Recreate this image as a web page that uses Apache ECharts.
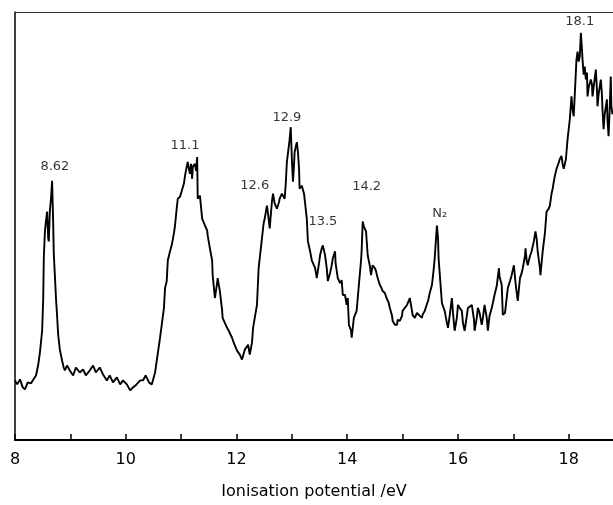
<!DOCTYPE html>
<html>
<head>
<meta charset="utf-8">
<script src="https://cdn.jsdelivr.net/npm/echarts@6/dist/echarts.min.js"></script>
<style>
  html, body { margin: 0; padding: 0; background: #fff; }
  #chart { width: 613px; height: 505px; }
</style>
</head>
<body>
<div id="chart"></div>
<script>
// photoelectron spectrum, intensity in arbitrary units
var energy = [
  8.00, 8.04, 8.09, 8.14, 8.18, 8.23, 8.29, 8.32, 8.38, 8.42, 8.45, 8.49, 8.51, 8.52, 8.54, 8.56, 8.58, 8.60, 8.61, 8.63,
  8.65, 8.67, 8.69, 8.70, 8.72, 8.74, 8.76, 8.78, 8.81, 8.85, 8.88, 8.90, 8.94,
  8.99, 9.05, 9.10, 9.17, 9.23, 9.28, 9.35, 9.41, 9.46, 9.53, 9.59, 9.66, 9.71, 9.77, 9.84, 9.90, 9.95, 10.02,
  10.08, 10.13, 10.18, 10.26, 10.31, 10.36, 10.42, 10.47, 10.53, 10.56,
  10.62, 10.65, 10.69, 10.71, 10.74, 10.76, 10.80, 10.83, 10.87, 10.89, 10.92, 10.94, 10.98, 11.01, 11.05, 11.07,
  11.10, 11.12, 11.14, 11.16, 11.18, 11.20, 11.21, 11.25, 11.27, 11.29, 11.30, 11.34, 11.38, 11.43, 11.47, 11.48,
  11.52, 11.56, 11.57, 11.61, 11.65, 11.66, 11.70, 11.74, 11.75, 11.79, 11.83, 11.86, 11.92, 11.95, 12.01, 12.06,
  12.10, 12.15, 12.21, 12.24, 12.28, 12.30,
  12.33, 12.37, 12.40, 12.44, 12.46, 12.49, 12.51, 12.55, 12.57, 12.60, 12.64, 12.66, 12.69, 12.73, 12.77, 12.78,
  12.82, 12.84, 12.87, 12.89, 12.91, 12.95, 12.96, 12.98, 13.00, 13.02, 13.04, 13.05, 13.09, 13.11, 13.13, 13.14,
  13.18, 13.22, 13.23, 13.27, 13.29, 13.33, 13.36, 13.38, 13.42, 13.45, 13.49, 13.51, 13.54, 13.56, 13.60, 13.63,
  13.65, 13.69, 13.72, 13.74, 13.78, 13.79, 13.83, 13.87, 13.90, 13.92, 13.96, 13.99, 14.01, 14.03, 14.07, 14.08,
  14.12, 14.17, 14.21, 14.25, 14.26, 14.28,
  14.30, 14.34, 14.37, 14.41, 14.43, 14.46, 14.50, 14.52, 14.55, 14.59, 14.62, 14.64, 14.68, 14.71, 14.75, 14.77,
  14.81, 14.82, 14.86, 14.90, 14.91, 14.95, 14.99, 15.00, 15.04, 15.08, 15.11, 15.13, 15.17, 15.18, 15.22, 15.26,
  15.27, 15.31, 15.35, 15.36, 15.40, 15.44, 15.46, 15.49, 15.53, 15.56, 15.58, 15.60, 15.62, 15.64, 15.65, 15.67,
  15.69, 15.71, 15.73,
  15.76, 15.80, 15.82, 15.85, 15.89, 15.91, 15.94, 15.98, 16.00, 16.03, 16.07, 16.09, 16.12, 16.16, 16.18, 16.21,
  16.25, 16.29, 16.30, 16.34, 16.36, 16.39, 16.43, 16.45, 16.48, 16.52, 16.54, 16.57, 16.61, 16.63, 16.66, 16.70,
  16.74, 16.75, 16.79, 16.81, 16.85, 16.86, 16.90, 16.94, 16.97, 17.01, 17.04, 17.08, 17.12, 17.15, 17.17, 17.21,
  17.22, 17.24, 17.26, 17.30, 17.33, 17.37, 17.40, 17.42, 17.44, 17.48, 17.49, 17.51, 17.53,
  17.57, 17.60, 17.64, 17.66, 17.69, 17.71, 17.73, 17.75, 17.78, 17.80, 17.84, 17.87, 17.89, 17.91, 17.95, 17.96,
  17.98, 18.02, 18.04, 18.05, 18.07, 18.09, 18.11, 18.14, 18.16, 18.18, 18.20, 18.22, 18.24, 18.25, 18.27, 18.29,
  18.31, 18.33, 18.34, 18.36, 18.40, 18.42, 18.43, 18.45, 18.49, 18.51, 18.52, 18.54, 18.58, 18.60, 18.61, 18.63,
  18.65, 18.69, 18.70, 18.72, 18.74, 18.76, 18.77, 18.79
]
var intensity = [
  60, 56, 61, 53, 51, 58, 57, 60, 65, 76, 88, 110, 143, 183, 210, 221, 230, 203, 200, 231,
  243, 261, 218, 188, 166, 143, 125, 106, 91, 80, 73, 70, 75,
  70, 65, 73, 68, 71, 65, 70, 75, 68, 73, 66, 60, 65, 58, 63, 56, 60, 56,
  50, 53, 55, 60, 60, 65, 58, 56, 68, 80,
  103, 116, 133, 153, 160, 181, 190, 196, 208, 216, 233, 243, 245, 246, 258, 266,
  275, 280, 273, 268, 278, 263, 275, 278, 271, 285, 243, 246, 223, 216, 211, 206,
  193, 181, 166, 143, 158, 163, 150, 131, 123, 118, 113, 110, 103, 98, 90, 86,
  81, 91, 96, 86, 98, 113,
  123, 136, 173, 193, 203, 218, 223, 236, 228, 213, 240, 248, 238, 233, 240, 243,
  248, 250, 243, 258, 280, 298, 303, 315, 283, 260, 278, 290, 300, 290, 273, 253,
  256, 248, 243, 223, 200, 190, 181, 183, 173, 163, 178, 186, 193, 196, 186, 173,
  160, 168, 176, 183, 190, 178, 163, 158, 161, 146, 146, 136, 143, 116, 110, 103,
  123, 130, 156, 181, 190, 220,
  215, 210, 186, 175, 166, 176, 173, 170, 163, 156, 153, 150, 148, 143, 138, 133,
  125, 120, 116, 116, 121, 120, 125, 130, 133, 136, 140, 143, 130, 126, 123, 128,
  130, 125, 123, 126, 130, 137, 140, 148, 156, 171, 183, 200, 216, 203, 183, 168,
  153, 138, 136,
  130, 118, 113, 125, 143, 128, 110, 123, 136, 133, 130, 118, 110, 125, 133, 135,
  136, 121, 110, 123, 133, 128, 116, 123, 136, 123, 110, 125, 133, 138, 146, 155,
  173, 165, 156, 126, 128, 130, 153, 160, 166, 176, 158, 140, 163, 168, 173, 185,
  193, 181, 176, 185, 190, 200, 210, 203, 190, 173, 166, 178, 190,
  208, 230, 233, 236, 248, 253, 260, 266, 273, 276, 283, 286, 278, 273, 283, 290,
  303, 323, 338, 346, 333, 326, 348, 383, 391, 381, 386, 410, 393, 383, 368, 376,
  363, 370, 346, 355, 363, 358, 346, 355, 373, 353, 336, 348, 363, 348, 333, 313,
  328, 343, 323, 306, 333, 366, 336, 328
]
// peak annotations: text, energy, height of label
var peakNames = ['8.62', '11.1', '12.6', '12.9', '13.5', '14.2', 'N₂', '18.1']
var peakX = [8.72, 11.07, 12.33, 12.91, 13.56, 14.35, 15.67, 18.20]
var peakY = [275, 296, 256, 325, 220, 255, 228, 421]

var chart = echarts.init(document.getElementById('chart'), null, { renderer: 'canvas' })

var lineData = energy.map(function (e, i) { return [e, intensity[i]] })
var labelData = peakNames.map(function (n, i) { return { name: n, value: [peakX[i], peakY[i]] } })

var fontFam = 'DejaVu Sans, sans-serif'

chart.setOption({
  animation: false,
  backgroundColor: '#fff',
  grid: { left: 15, right: 0, top: 12, bottom: 62 },
  xAxis: [
    {
      type: 'value',
      min: 8,
      max: 18.8,
      interval: 1,
      name: 'Ionisation potential /eV',
      nameLocation: 'middle',
      nameGap: 44,
      nameTextStyle: { color: '#000', fontSize: 16, fontFamily: fontFam },
      axisLine: { onZero: false, lineStyle: { color: '#000', width: 2 } },
      axisTick: { inside: true, length: 6, lineStyle: { color: '#000', width: 1.5 } },
      axisLabel: {
        color: '#000',
        fontSize: 16,
        fontFamily: fontFam,
        margin: 12,
        showMaxLabel: false,
        formatter: function (v) { return v % 2 === 0 ? String(v) : '' }
      },
      splitLine: { show: false }
    },
    {
      type: 'value',
      position: 'top',
      min: 8,
      max: 18.8,
      axisLine: { show: true, onZero: false, lineStyle: { color: '#333', width: 1 } },
      axisTick: { show: false },
      axisLabel: { show: false },
      splitLine: { show: false }
    }
  ],
  yAxis: [
    {
      type: 'value',
      min: 0,
      max: 431,
      axisLine: { show: true, onZero: false, lineStyle: { color: '#000', width: 1.5 } },
      axisTick: { show: false },
      axisLabel: { show: false },
      splitLine: { show: false }
    },
    {
      type: 'value',
      position: 'right',
      min: 0,
      max: 431,
      axisLine: { show: true, onZero: false, lineStyle: { color: '#aaa', width: 1, type: 'dashed' } },
      axisTick: { show: false },
      axisLabel: { show: false },
      splitLine: { show: false }
    }
  ],
  series: [
    {
      type: 'line',
      data: lineData,
      showSymbol: false,
      symbol: 'none',
      lineStyle: { color: '#000', width: 1.9 },
      silent: true
    },
    {
      type: 'scatter',
      data: labelData,
      symbolSize: 1,
      itemStyle: { color: 'rgba(0,0,0,0)' },
      silent: true,
      label: {
        show: true,
        position: 'inside',
        color: '#000',
        fontSize: 13,
        fontFamily: fontFam,
        formatter: function (p) { return p.name }
      }
    }
  ]
})
</script>
</body>
</html>
